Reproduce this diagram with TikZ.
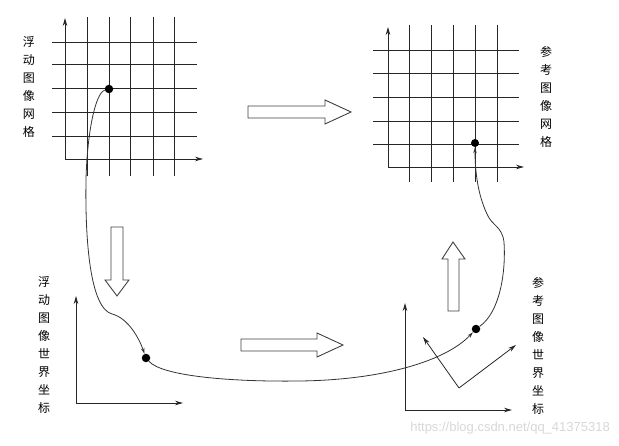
\documentclass[tikz,border=0pt]{standalone}
\usepackage{fontspec}
\newfontfamily\cjk{Noto Sans CJK SC}
\newfontfamily\wmfont{Liberation Sans}
\usetikzlibrary{arrows.meta}
\definecolor{wmgray}{RGB}{215,215,215}
\begin{document}
\begin{tikzpicture}[x=1pt,y=-1pt,
  gridline/.style={line width=0.9pt,black!85},
  axisline/.style={line width=0.8pt,black!85,-{Stealth[length=8pt,width=4.5pt]}},
  flow/.style={line width=0.8pt,black!80,-{Stealth[length=6pt,width=3.5pt]}},
  dotnode/.style={circle,fill=black,inner sep=0pt,minimum size=8.5pt},
  blockarrow/.style={line width=0.9pt,draw=black!75,fill=white},
  vlabel/.style={font=\cjk\fontsize{12}{18}\selectfont,align=center,inner sep=0pt,text=black},
]
\useasboundingbox (0,0) rectangle (619,446);

% ---- left grid (floating image grid)
\foreach \x in {87,109,130,153,174} \draw[gridline] (\x,17) -- (\x,176);
\foreach \y in {42,64,88,112,136} \draw[gridline] (52,\y) -- (197,\y);
\coordinate (lgO) at (65,159);
\coordinate (lgY) at (65,18);
\coordinate (lgX) at (203,159);
\draw[axisline] (lgO) -- (lgY);
\draw[axisline] (lgO) -- (lgX);
\node[vlabel] (lgL) at (29,87) {浮\\动\\图\\像\\网\\格};

% ---- right grid (reference image grid)
\foreach \x in {409,431,453,475,497} \draw[gridline] (\x,25) -- (\x,182);
\foreach \y in {50,73,97,121,144} \draw[gridline] (373,\y) -- (519,\y);
\coordinate (rgO) at (388,167);
\coordinate (rgY) at (388,27);
\coordinate (rgX) at (524,167);
\draw[axisline] (rgO) -- (rgY);
\draw[axisline] (rgO) -- (rgX);
\node[vlabel] (rgL) at (546,97) {参\\考\\图\\像\\网\\格};

% ---- left world coordinates
\coordinate (lwO) at (76,403);
\coordinate (lwY) at (76,296);
\coordinate (lwX) at (183,403);
\draw[axisline] (lwO) -- (lwY);
\draw[axisline] (lwO) -- (lwX);
\node[vlabel] (lwL) at (44,345) {浮\\动\\图\\像\\世\\界\\坐\\标};

% ---- right world coordinates
\coordinate (rwO) at (405,410);
\coordinate (rwY) at (405,303);
\coordinate (rwX) at (512,410);
\draw[axisline] (rwO) -- (rwY);
\draw[axisline] (rwO) -- (rwX);
\coordinate (rfO) at (459,388);
\coordinate (rfA) at (423,337);
\coordinate (rfB) at (516,345);
\draw[axisline] (rfO) -- (rfA);
\draw[axisline] (rfO) -- (rfB);
\node[vlabel] (rwL) at (538,346) {参\\考\\图\\像\\世\\界\\坐\\标};

% ---- block arrows
\draw[blockarrow] (248,106) -- (325,106) -- (325,100) -- (351,112) -- (325,124) -- (325,118) -- (248,118) -- cycle;
\draw[blockarrow] (111,227) -- (123,227) -- (123,280) -- (129,280) -- (117,296) -- (105,280) -- (111,280) -- cycle;
\draw[blockarrow] (241,339) -- (317,339) -- (317,333) -- (343,345) -- (317,357) -- (317,351) -- (241,351) -- cycle;
\draw[blockarrow] (448,311) -- (448,259) -- (442,259) -- (453,242) -- (465,259) -- (459,259) -- (459,311) -- cycle;

% ---- points
\node[dotnode] (d1) at (109,89) {};
\node[dotnode] (d2) at (146,358) {};
\node[dotnode] (d3) at (476,329) {};
\node[dotnode,minimum size=8pt] (d4) at (475,143) {};

% ---- mapping curves
\draw[flow] (d1) .. controls (95,93) and (87,135) .. (86,180)
  .. controls (85,240) and (90,308) .. (112,314)
  .. controls (128,318) and (139,338) .. (d2);
\draw[flow] (d2) .. controls (162,376) and (230,382) .. (300,381)
  .. controls (380,380) and (445,362) .. (d3);
\draw[flow] (d3) .. controls (500,312) and (506,272) .. (504,242)
  .. controls (502,226) and (492,226) .. (487,214)
  .. controls (478,195) and (475,172) .. (d4);

% ---- watermark
\node[font=\wmfont\fontsize{13}{13}\selectfont,text=wmgray,anchor=east,inner sep=0pt] (wm) at (610,428) {https://blog.csdn.net/qq\_41375318};
\end{tikzpicture}
\end{document}
